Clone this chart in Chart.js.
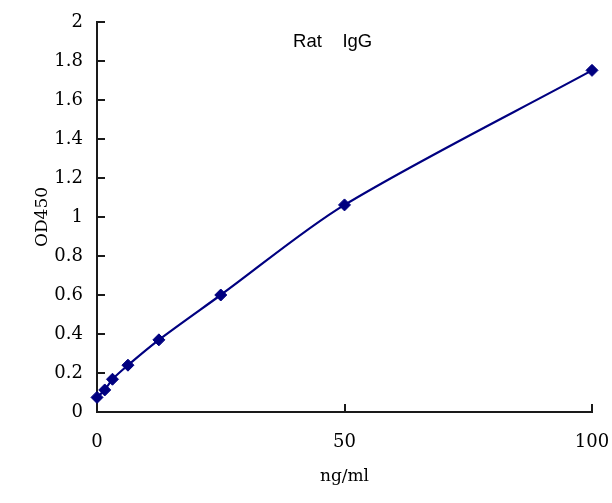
<!DOCTYPE html>
<html>
<head>
<meta charset="utf-8">
<script src="https://cdn.jsdelivr.net/npm/chart.js@4/dist/chart.umd.min.js"></script>
<style>
html,body{margin:0;padding:0;background:#fff;}
#wrap{width:612px;height:503px;}
</style>
</head>
<body>
<div id="wrap"><canvas id="c" width="612" height="503"></canvas></div>
<script>
const concentrations = [0, 1.5625, 3.125, 6.25, 12.5, 25, 50, 100];
const od450 = [0.075, 0.113, 0.168, 0.24, 0.37, 0.60, 1.062, 1.752];
const chartTitle = 'Rat    IgG';
const xTitle = 'ng/ml';
const yTitle = 'OD450';
const xTicks = [0, 50, 100];
const yTicks = [0, 0.2, 0.4, 0.6, 0.8, 1, 1.2, 1.4, 1.6, 1.8, 2];

const points = concentrations.map((x, i) => ({x: x, y: od450[i]}));
const serif = 'DejaVu Serif';
const navy = '#000080';

const innerTicks = {
  id: 'innerTicks',
  afterDraw(chart) {
    const ctx = chart.ctx;
    const xs = chart.scales.x, ys = chart.scales.y;
    const a = chart.chartArea;
    ctx.save();
    ctx.strokeStyle = '#1a1a1a';
    ctx.lineWidth = 2;
    ctx.beginPath();
    yTicks.forEach(v => {
      const py = Math.round(ys.getPixelForValue(v));
      ctx.moveTo(a.left, py); ctx.lineTo(a.left + 8, py);
    });
    xTicks.forEach(v => {
      const px = Math.round(xs.getPixelForValue(v));
      ctx.moveTo(px, a.bottom); ctx.lineTo(px, a.bottom - 8);
    });
    ctx.stroke();
    ctx.fillStyle = '#000';
    ctx.font = '18.5px "Liberation Sans"';
    ctx.textAlign = 'center';
    ctx.textBaseline = 'middle';
    ctx.fillText(chartTitle, xs.getPixelForValue(47.6), ys.getPixelForValue(1.9));
    ctx.restore();
  }
};

new Chart(document.getElementById('c'), {
  type: 'scatter',
  data: {
    datasets: [{
      data: points,
      showLine: true,
      borderColor: navy,
      backgroundColor: navy,
      borderWidth: 2.2,
      tension: 0.3,
      pointStyle: 'rectRot',
      pointRadius: 6,
      pointBorderWidth: 1,
      pointBorderColor: navy,
      pointBackgroundColor: navy,
      clip: false
    }]
  },
  options: {
    responsive: false,
    animation: false,
    devicePixelRatio: 1,
    layout: {padding: {left: 0, right: 20, top: 22, bottom: 0}},
    plugins: {legend: {display: false}, tooltip: {enabled: false}, title: {display: false}},
    scales: {
      x: {
        type: 'linear',
        min: 0, max: 100,
        afterBuildTicks(s) { s.ticks = xTicks.map(v => ({value: v})); },
        afterFit(s) { s.height = 91; s.paddingLeft = 0; s.paddingRight = 0; },
        grid: {display: false},
        border: {display: true, color: '#1a1a1a', width: 2},
        ticks: {color: '#000', font: {family: serif, size: 18}, padding: 12, maxRotation: 0,
                callback: v => String(v)},
        title: {display: true, text: xTitle, color: '#000', font: {family: serif, size: 17}, padding: {top: 0, bottom: 16}}
      },
      y: {
        type: 'linear',
        min: 0, max: 2,
        afterBuildTicks(s) { s.ticks = yTicks.map(v => ({value: v})); },
        afterFit(s) { s.width = 97; s.paddingTop = 0; s.paddingBottom = 0; },
        grid: {display: false},
        border: {display: true, color: '#1a1a1a', width: 2},
        ticks: {color: '#000', font: {family: serif, size: 18}, padding: 6,
                callback: v => String(v)},
        title: {display: true, text: yTitle, color: '#000', font: {family: serif, size: 17}, padding: {top: 32, bottom: 0}}
      }
    }
  },
  plugins: [innerTicks]
});
</script>
</body>
</html>
